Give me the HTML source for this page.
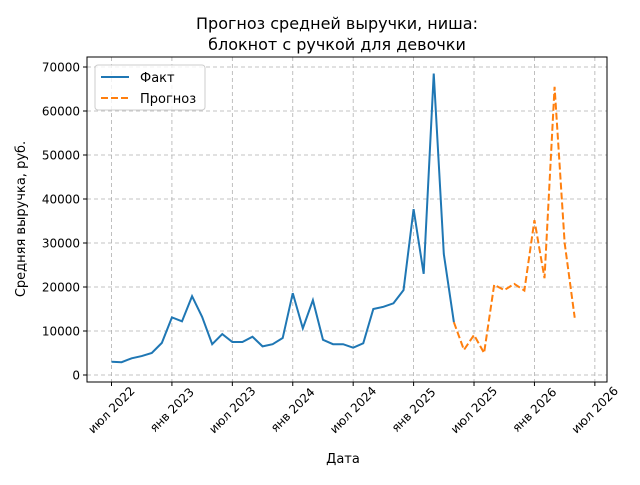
<!DOCTYPE html>
<html><head><meta charset="utf-8"><style>
body{margin:0;background:#fff;font-family:"Liberation Sans","DejaVu Sans",sans-serif}
svg text{font-family:"DejaVu Sans","Liberation Sans",sans-serif}
</style></head><body>
<svg id="c" width="640" height="480" viewBox="0 0 640 480">
<text x="337" y="29" font-size="16" text-anchor="middle">Прогноз средней выручки, ниша:</text>
<text x="337" y="50" font-size="16" text-anchor="middle">блокнот с ручкой для девочки</text>
<g id="grid"></g>
<g id="series"></g>
<rect x="87" y="57" width="520" height="325" fill="none" stroke="#000" stroke-width="1"/>
<g id="axes"></g>
<text x="343" y="463" font-size="13" text-anchor="middle">Дата</text>
<text transform="translate(25,219) rotate(-90)" font-size="13" text-anchor="middle">Средняя выручка, руб.</text>
<g>
<rect x="95" y="65" width="110" height="45" fill="#fff" fill-opacity="0.8" stroke="#ccc" rx="3"/>
<line x1="101" y1="77" x2="129" y2="77" stroke="#1f77b4" stroke-width="2"/>
<text x="140" y="82" font-size="13">Факт</text>
<line x1="101" y1="98" x2="129" y2="98" stroke="#ff7f0e" stroke-width="2" stroke-dasharray="7,3"/>
<text x="140" y="103" font-size="13">Прогноз</text>
</g>
</svg>
<script>
const factValues=[3000,2900,3800,4300,5000,7300,13100,12200,17900,13200,7000,9300,7500,7500,8700,6500,7000,8400,18600,10600,17000,8000,7000,7000,6200,7200,15000,15500,16300,19300,37700,23000,68500,27500,12000];
const forecastValues=[12000,5700,9100,5000,20500,19300,20700,19200,35200,22000,65500,30000,13000];
const forecastStart=34;
const yTicks=[0,10000,20000,30000,40000,50000,60000,70000];
const xTickMonths=[0,6,12,18,24,30,36,42,48];
const xTickLabels=["июл 2022","янв 2023","июл 2023","янв 2024","июл 2024","янв 2025","июл 2025","янв 2026","июл 2026"];
const NS="http://www.w3.org/2000/svg";
function xs(i){return 111.5+i*10.07;}
function ys(v){return 375-v*0.0044;}
const grid=document.getElementById('grid'),axes=document.getElementById('axes'),ser=document.getElementById('series');
function mk(tag,attrs,parent){const e=document.createElementNS(NS,tag);for(const k in attrs)e.setAttribute(k,attrs[k]);parent.appendChild(e);return e;}
yTicks.forEach(v=>{const y=ys(v);
const g=mk('line',{x1:87,x2:607,y1:y,y2:y,stroke:'#b0b0b0','stroke-dasharray':'4,3','stroke-width':0.8},grid);


const t=mk('line',{x1:83,x2:87,y1:y,y2:y,stroke:'#000'},axes);


const l=mk('text',{x:80,y:y+4.5,'font-size':12,'text-anchor':'end'},axes);l.textContent=v;

});
xTickMonths.forEach((m,k)=>{const x=xs(m);
const g=mk('line',{x1:x,x2:x,y1:57,y2:382,stroke:'#b0b0b0','stroke-dasharray':'4,3','stroke-width':0.8},grid);


const t=mk('line',{x1:x,x2:x,y1:382,y2:386,stroke:'#000'},axes);


const l=mk('text',{x:0,y:4,'font-size':12,'text-anchor':'middle',transform:`translate(${x},${410}) rotate(-45)`},axes);l.textContent=xTickLabels[k];

});
const fp=mk('polyline',{points:factValues.map((v,i)=>xs(i)+','+ys(v)).join(' '),fill:'none',stroke:'#1f77b4','stroke-width':2},ser);


const pp=mk('polyline',{points:forecastValues.map((v,i)=>xs(forecastStart+i)+','+ys(v)).join(' '),fill:'none',stroke:'#ff7f0e','stroke-width':2,'stroke-dasharray':'7,3'},ser);


</script>
</body></html>
